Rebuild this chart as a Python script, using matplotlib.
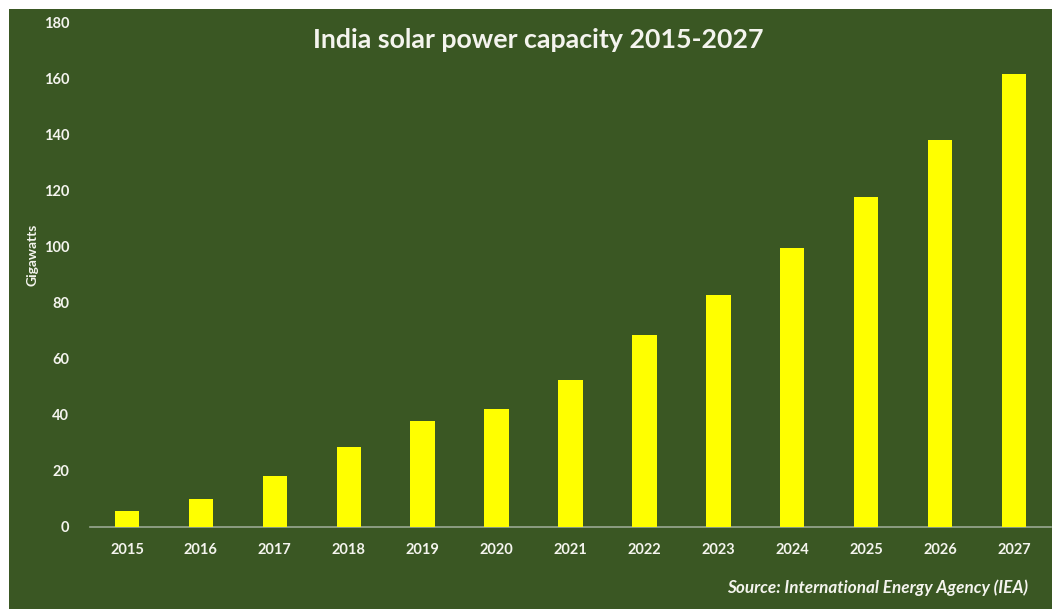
import matplotlib
matplotlib.use("Agg")
import matplotlib.pyplot as plt
from matplotlib.patches import Rectangle

# data
years = ["2015", "2016", "2017", "2018", "2019", "2020", "2021",
         "2022", "2023", "2024", "2025", "2026", "2027"]
capacity_gw = [5.6, 9.7, 18.0, 28.5, 37.6, 41.8, 52.3,
               68.3, 82.6, 99.3, 117.5, 137.8, 161.3]
yticks = [0, 20, 40, 60, 80, 100, 120, 140, 160, 180]

BG = "#3a5723"
BAR = "#ffff00"
TXT = "#f4f4ee"

plt.rcParams["font.family"] = ["Lato", "DejaVu Sans"]

W, H = 1052, 609
fig = plt.figure(figsize=(W / 100, H / 100), dpi=100, facecolor="white")
# green panel with a thin white margin on left/top
fig.patches.append(Rectangle((9 / W, 0), 1 - 9 / W, 1 - 9 / H,
                             transform=fig.transFigure, facecolor=BG,
                             edgecolor="none", zorder=-10))

ax = fig.add_axes([90 / W, (H - 526.5) / H, 961 / W, 504.5 / H])
ax.set_zorder(1)
ax.set_facecolor("none")
x = range(len(years))
ax.bar(x, capacity_gw, width=0.33, color=BAR, zorder=3)

ax.set_xlim(-0.5, len(years) - 0.5)
ax.set_ylim(0, 180)
ax.set_yticks(yticks)
ax.set_xticks(list(x))
ax.set_xticklabels(years)
for s in ["top", "right", "left"]:
    ax.spines[s].set_visible(False)
ax.spines["bottom"].set_color("#9aa892")
ax.spines["bottom"].set_linewidth(1.2)
ax.tick_params(axis="both", length=0, colors=TXT, labelsize=10.5)
ax.tick_params(axis="y", pad=15)
ax.tick_params(axis="x", pad=12)
for lab in ax.get_xticklabels() + ax.get_yticklabels():
    lab.set_fontweight("bold")

ax.set_ylabel("Gigawatts", color=TXT, fontsize=10, fontweight="bold")
ax.yaxis.set_label_coords(-0.054, 0.538)

fig.text(538 / W, 1 - 40 / H, "India solar power capacity 2015-2027",
         ha="center", va="center", color=TXT, fontsize=19.3, fontweight="bold")
fig.text(1028 / W, 1 - 588 / H, "Source: International Energy Agency (IEA)",
         ha="right", va="center", color=TXT, fontsize=12.3, fontweight="bold",
         style="italic")

fig.savefig("out.png", dpi=100, facecolor=fig.get_facecolor())
